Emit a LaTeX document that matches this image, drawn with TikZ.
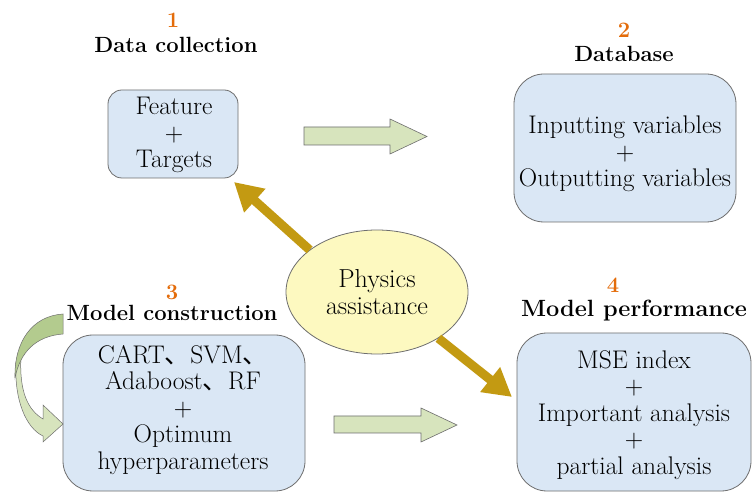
\documentclass[tikz,border=0pt]{standalone}
\usepackage{fontspec}
\newfontfamily\cjk{Noto Sans CJK SC}
\usetikzlibrary{arrows.meta,shapes.geometric}

\definecolor{boxblue}{HTML}{DAE7F5}
\definecolor{boxedge}{HTML}{6E6E6E}
\definecolor{physyellow}{HTML}{FDF9C0}
\definecolor{blockgreen}{HTML}{D7E4BD}
\definecolor{curvegreen}{HTML}{B3CB8E}
\definecolor{gold}{HTML}{C39A12}
\definecolor{steporange}{HTML}{E46C0A}

\newcommand{\ideocomma}{{\cjk 、}}

\begin{document}
\begin{tikzpicture}[x=1pt,y=-1pt,
  stage/.style={draw=boxedge, line width=0.8pt, fill=boxblue, inner sep=0pt},
  stagetext/.style={align=center, font=\fontsize{25.5}{26.5}\selectfont, inner sep=0pt},
  heading/.style={font=\fontsize{22}{26}\selectfont\bfseries, inner sep=0pt,
    text height=15.5pt, text depth=4pt},
  stepnum/.style={font=\fontsize{22}{26}\selectfont\bfseries, text=steporange,
    inner sep=0pt, text height=15.5pt, text depth=0pt},
  goldarrow/.style={draw=gold, line width=9pt, -{Triangle[length=28pt,width=30pt]}},
  blockarrow/.style={draw=boxedge, line width=0.6pt, fill=blockgreen, line join=miter},
  curvelight/.style={draw=boxedge, line width=0.5pt, fill=blockgreen, line join=miter},
  curvedark/.style={draw=boxedge, line width=0.5pt, fill=curvegreen}
]
\path[fill=white] (0,0) rectangle (753,494);
\useasboundingbox (0,0) rectangle (753,494);

% stage boxes
\node[stage, rounded corners=14pt, minimum width=130pt, minimum height=88pt]
  (collect) at (173,134) {};
\node[stage, rounded corners=30pt, minimum width=222pt, minimum height=148pt]
  (database) at (625,148) {};
\node[stage, rounded corners=30pt, minimum width=242pt, minimum height=156pt]
  (construct) at (184,413) {};
\node[stage, rounded corners=30pt, minimum width=234pt, minimum height=158pt]
  (perform) at (634,412) {};

% box contents
\node[stagetext] (collect-txt) at (174,135) {Feature\\+\\Targets};
\node[stagetext] (database-txt) at (625,154) {Inputting variables\\+\\Outputting variables};
\node[stagetext] (construct-txt) at (183,410)
  {CART\ideocomma SVM\ideocomma\\Adaboost\ideocomma RF\\+\\Optimum\\hyperparameters};
\node[stagetext] (perform-txt) at (634,415) {MSE index\\+\\Important analysis\\+\\partial analysis};

% headings and step numbers
\node[stepnum] (n1) at (173,20) {1};
\node[heading] (h1) at (176,47) {Data collection};
\node[stepnum] (n2) at (624,29.5) {2};
\node[heading] (h2) at (624,55.5) {Database};
\node[stepnum] (n3) at (172,292) {3};
\node[heading] (h3) at (172,314.5) {Model construction};
\node[stepnum] (n4) at (613,285) {4};
\node[heading, font=\fontsize{23.5}{26}\selectfont\bfseries] (h4) at (634,311) {Model performance};

% central ellipse
\node[ellipse, draw=boxedge, line width=0.8pt, fill=physyellow,
  minimum width=182pt, minimum height=124pt, inner sep=0pt, align=center,
  font=\fontsize{26}{27}\selectfont] (phys) at (377,292) {Physics\\assistance};

% physics assistance arrows
\coordinate (tip1) at (234,182);
\coordinate (tip2) at (512,397);
\draw[goldarrow] (phys.148) -- (tip1);
\draw[goldarrow] (phys.-37) -- (tip2);

% block arrows between stages
\draw[blockarrow] (304,127) -- (390,127) -- (390,119) -- (427,136.5)
  -- (390,154) -- (390,145) -- (304,145) -- cycle;
\draw[blockarrow] (334,416) -- (421,416) -- (421,408) -- (457,425)
  -- (421,442) -- (421,433) -- (334,433) -- cycle;

% curved feedback arrow beside the model construction box
\draw[curvelight] (16,362) .. controls (14,400) and (26,428) .. (43,436)
  -- (43,442) -- (63,424) -- (43,405) -- (43,419)
  .. controls (28,410) and (19,392) .. (21,356) -- cycle;
\draw[curvedark] (63,314) .. controls (32,316) and (14,342) .. (15,378)
  .. controls (20,352) and (36,336) .. (63,334) -- cycle;
\end{tikzpicture}
\end{document}
